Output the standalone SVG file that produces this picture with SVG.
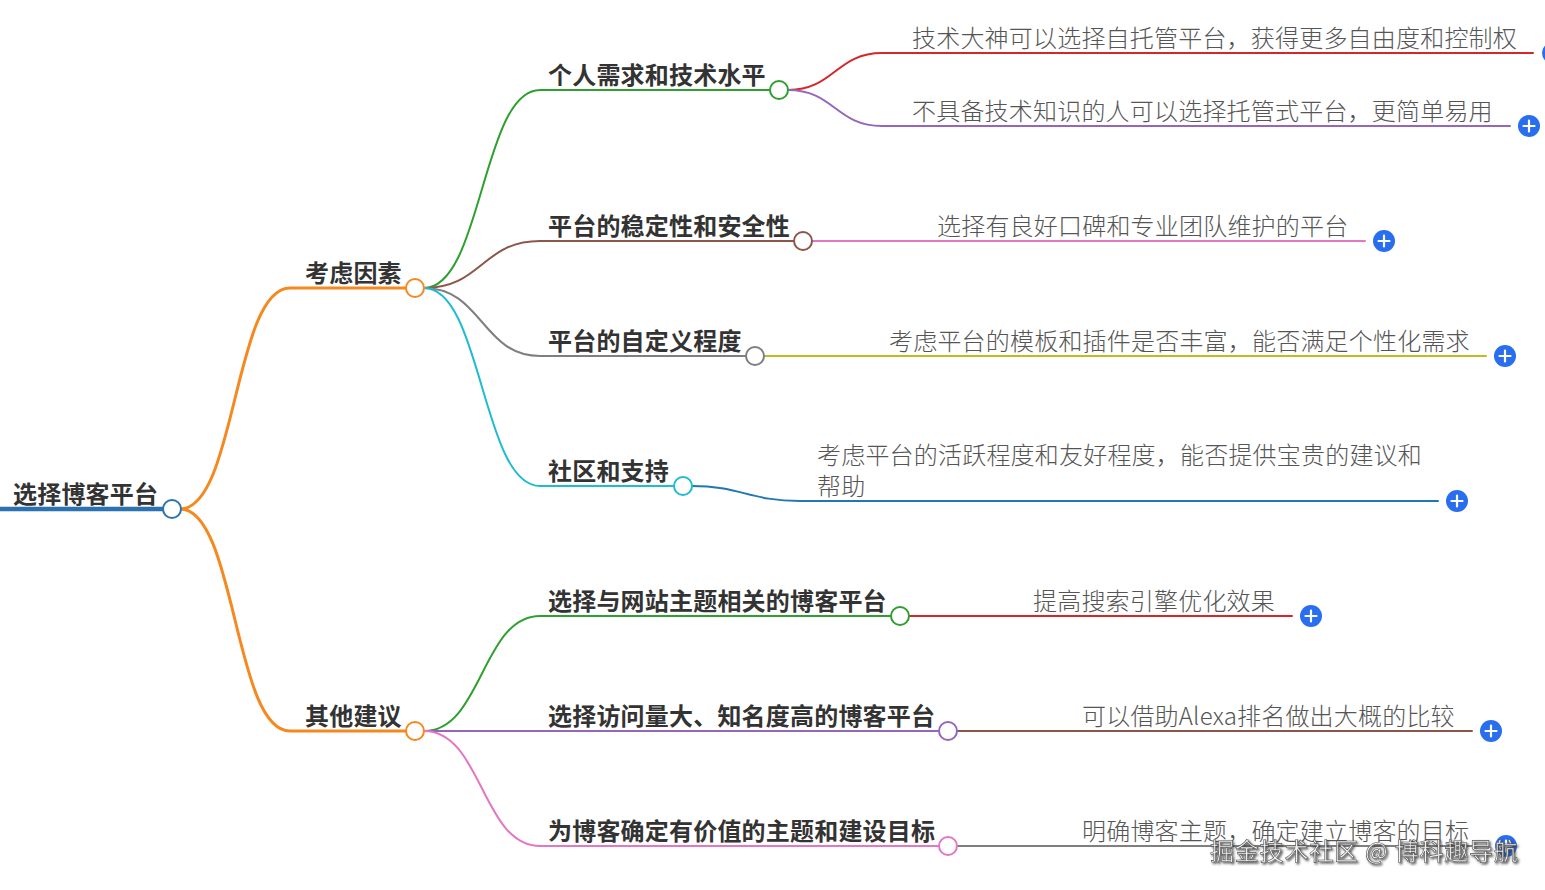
<svg xmlns="http://www.w3.org/2000/svg" width="1545" height="890" viewBox="0 0 1545 890">
<defs>
<style>
.t1{font-family:"Noto Sans CJK SC","Liberation Sans",sans-serif;font-size:24px;font-weight:700;fill:#333;letter-spacing:0.2px}
.t3{font-family:"Noto Sans CJK SC","Liberation Sans",sans-serif;font-size:24px;font-weight:300;fill:#555;letter-spacing:0.2px}
.c{fill:none;stroke-linecap:round}
.n{fill:#fff;stroke-width:2}
.p{fill:#2a6ef0}
.pl{stroke:#fff;stroke-width:2.2;stroke-linecap:round}
.wm{font-family:"Noto Sans CJK SC","Liberation Sans",sans-serif;font-size:24px;font-weight:400;fill:#f2f2f2;stroke:#555;stroke-width:0.6;letter-spacing:0.8px}
</style>
<filter id="sh" x="-10%" y="-30%" width="120%" height="160%">
<feDropShadow dx="1.5" dy="1.5" stdDeviation="0.8" flood-color="#333" flood-opacity="0.9"/>
</filter>
<g id="plus"><circle r="11" class="p"/><path d="M-5.5,0H5.5M0,-5.5V5.5" class="pl"/></g>
</defs>
<g id="connectors">
<path class="c" d="M0,509H163" stroke="#2a72b0" stroke-width="4.5"/>
<path class="c" d="M180,509C236,509 234,288 290,288H406" stroke="#f5891f" stroke-width="3"/>
<path class="c" d="M180,509C236,509 234,731 290,731H406" stroke="#f5891f" stroke-width="3"/>
<path class="c" d="M424,288C482,288 482,90 540,90H770" stroke="#2fa02f" stroke-width="2"/>
<path class="c" d="M424,288C482,288 482,241 540,241H794" stroke="#8c564b" stroke-width="2"/>
<path class="c" d="M424,288C482,288 482,356 540,356H746" stroke="#7f7f7f" stroke-width="2"/>
<path class="c" d="M424,288C482,288 482,486 540,486H674" stroke="#1fbcd0" stroke-width="2"/>
<path class="c" d="M424,731C482,731 482,616 540,616H891" stroke="#2fa02f" stroke-width="2"/>
<path class="c" d="M424,731H939" stroke="#9467bd" stroke-width="2"/>
<path class="c" d="M424,731C482,731 482,846 540,846H939" stroke="#e377c2" stroke-width="2"/>
<path class="c" d="M788,90C834,90 836,53 882,53H1533" stroke="#d62728" stroke-width="2"/>
<path class="c" d="M788,90C834,90 836,126 882,126H1510" stroke="#9467bd" stroke-width="2"/>
<path class="c" d="M812,241H1365" stroke="#e377c2" stroke-width="2"/>
<path class="c" d="M764,356H1486" stroke="#bcbd22" stroke-width="2"/>
<path class="c" d="M692,486C740,486 750,501 800,501H1438" stroke="#1f77b4" stroke-width="2"/>
<path class="c" d="M909,616H1292" stroke="#d62728" stroke-width="2"/>
<path class="c" d="M957,731H1472" stroke="#8c564b" stroke-width="2"/>
<path class="c" d="M957,846H1487" stroke="#7f7f7f" stroke-width="2"/>
</g>
<g id="root">
<text class="t1" x="13" y="503">选择博客平台</text>
<circle cx="172" cy="509" r="9" class="n" stroke="#2a72b0"/>
</g>
<g id="n-kaolv">
<text class="t1" x="305" y="282">考虑因素</text>
<circle cx="415" cy="288" r="9" class="n" stroke="#f5891f"/>
</g>
<g id="n-qita">
<text class="t1" x="305" y="725">其他建议</text>
<circle cx="415" cy="731" r="9" class="n" stroke="#f5891f"/>
</g>
<g id="n-geren">
<text class="t1" x="548" y="84">个人需求和技术水平</text>
<circle cx="779" cy="90" r="9" class="n" stroke="#2fa02f"/>
</g>
<g id="n-wending">
<text class="t1" x="548" y="235">平台的稳定性和安全性</text>
<circle cx="803" cy="241" r="9" class="n" stroke="#8c564b"/>
</g>
<g id="n-zidingyi">
<text class="t1" x="548" y="350">平台的自定义程度</text>
<circle cx="755" cy="356" r="9" class="n" stroke="#7f7f7f"/>
</g>
<g id="n-shequ">
<text class="t1" x="548" y="480">社区和支持</text>
<circle cx="683" cy="486" r="9" class="n" stroke="#1fbcd0"/>
</g>
<g id="n-zhuti">
<text class="t1" x="548" y="610">选择与网站主题相关的博客平台</text>
<circle cx="900" cy="616" r="9" class="n" stroke="#2fa02f"/>
</g>
<g id="n-fangwen">
<text class="t1" x="548" y="725">选择访问量大、知名度高的博客平台</text>
<circle cx="948" cy="731" r="9" class="n" stroke="#9467bd"/>
</g>
<g id="n-mubiao">
<text class="t1" x="548" y="840">为博客确定有价值的主题和建设目标</text>
<circle cx="948" cy="846" r="9" class="n" stroke="#e377c2"/>
</g>
<g id="l-jishu">
<text class="t3" x="912" y="47">技术大神可以选择自托管平台，获得更多自由度和控制权</text>
<use href="#plus" x="1553" y="53"/>
</g>
<g id="l-bujubei">
<text class="t3" x="912" y="120">不具备技术知识的人可以选择托管式平台，更简单易用</text>
<use href="#plus" x="1529" y="126"/>
</g>
<g id="l-koubei">
<text class="t3" x="937" y="235">选择有良好口碑和专业团队维护的平台</text>
<use href="#plus" x="1384" y="241"/>
</g>
<g id="l-muban">
<text class="t3" x="889" y="350">考虑平台的模板和插件是否丰富，能否满足个性化需求</text>
<use href="#plus" x="1505" y="356"/>
</g>
<g id="l-huoyue">
<text class="t3" x="817" y="464">考虑平台的活跃程度和友好程度，能否提供宝贵的建议和</text>
<text class="t3" x="817" y="495">帮助</text>
<use href="#plus" x="1457" y="501"/>
</g>
<g id="l-seo">
<text class="t3" x="1033" y="610">提高搜索引擎优化效果</text>
<use href="#plus" x="1311" y="616"/>
</g>
<g id="l-alexa">
<text class="t3" x="1082" y="725">可以借助Alexa排名做出大概的比较</text>
<use href="#plus" x="1491" y="731"/>
</g>
<g id="l-mingque">
<text class="t3" x="1082" y="840">明确博客主题，确定建立博客的目标</text>
<use href="#plus" x="1506" y="846"/>
</g>
<text class="wm" x="1210" y="860" filter="url(#sh)">掘金技术社区 @ 博科趣导航</text>
</svg>
